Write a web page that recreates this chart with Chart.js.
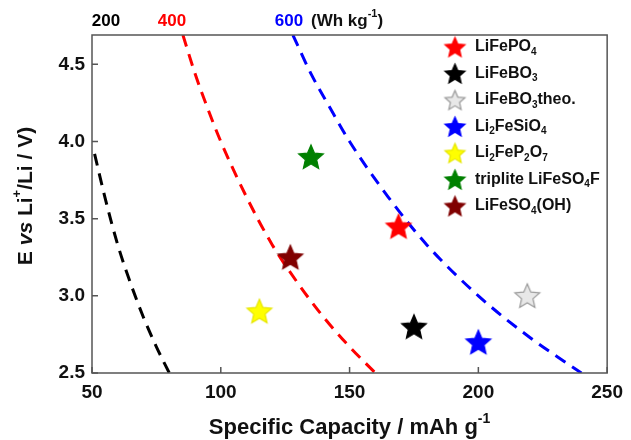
<!DOCTYPE html>
<html>
<head>
<meta charset="utf-8">
<script src="https://cdn.jsdelivr.net/npm/chart.js@4.4.0/dist/chart.umd.min.js"></script>
<style>
  html, body { margin: 0; padding: 0; background: #fff; }
  #wrap { width: 631px; height: 440px; }
</style>
</head>
<body>
<div id="wrap"><canvas id="capChart"></canvas></div>
<script>
// materials (legend labels use _ for subscript, ^ for superscript)
const materials = ['LiFePO_4', 'LiFeBO_3', 'LiFeBO_3theo.', 'Li_2FeSiO_4', 'Li_2FeP_2O_7', 'triplite LiFeSO_4F', 'LiFeSO_4(OH)'];
const capacity = [169, 175, 219, 200, 115, 135, 127];
const voltage = [3.45, 2.80, 3.00, 2.70, 2.90, 3.90, 3.25];
const starFill = ['#ff0000', '#000000', '#e8e8e8', '#0000ff', '#ffff00', '#008000', '#800000'];
const starEdge = ['#ff0000', '#000000', '#999999', '#0000ff', '#e6e600', '#008000', '#800000'];

// iso-energy lines (Wh/kg)
const energyLevels = ['200', '400', '600'];
const energyColors = ['#000000', '#ff0000', '#0000ff'];
const cap200 = [51, 55, 60, 65, 70, 75, 80];
const volt200 = [3.92, 3.64, 3.33, 3.08, 2.86, 2.67, 2.50];
const cap400 = [85.3, 90, 95, 100, 110, 120, 130, 140, 150, 160];
const volt400 = [4.69, 4.44, 4.21, 4.00, 3.64, 3.33, 3.08, 2.86, 2.67, 2.50];
const cap600 = [128, 135, 142, 150, 165, 180, 200, 220, 240];
const volt600 = [4.69, 4.44, 4.23, 4.00, 3.64, 3.33, 3.00, 2.73, 2.50];

const xTicks = [50, 100, 150, 200, 250];
const yTicks = [2.5, 3.0, 3.5, 4.0, 4.5];

const FONT = '"Liberation Sans", Arial, sans-serif';

function makeStar(r, fill, edge) {
  const s = Math.ceil(r * 2 + 4);
  const c = document.createElement('canvas');
  c.width = s; c.height = s;
  const g = c.getContext('2d');
  g.beginPath();
  for (let i = 0; i < 10; i++) {
    const rad = i % 2 ? r * 0.46 : r;
    const a = -Math.PI / 2 + i * Math.PI / 5;
    g.lineTo(s / 2 + rad * Math.cos(a), s / 2 + 1 + rad * Math.sin(a));
  }
  g.closePath();
  g.fillStyle = fill;
  g.fill();
  g.lineWidth = 1.2;
  g.strokeStyle = edge;
  g.stroke();
  return c;
}

const plotStars = starFill.map((f, i) => makeStar(13, f, starEdge[i]));
const legendStars = starFill.map((f, i) => makeStar(10.5, f, starEdge[i]));

// tiny rich text: _x / _{..} subscript, ^x / ^{..} superscript, *..* italic
function parseRich(str) {
  const out = [];
  let i = 0, italic = false, buf = '';
  const flush = () => { if (buf) { out.push({ t: buf, mode: 'n', italic }); buf = ''; } };
  while (i < str.length) {
    const ch = str[i];
    if (ch === '*') { flush(); italic = !italic; i++; continue; }
    if (ch === '_' || ch === '^') {
      flush();
      let t;
      if (str[i + 1] === '{') { const e = str.indexOf('}', i); t = str.slice(i + 2, e); i = e + 1; }
      else { t = str[i + 1]; i += 2; }
      out.push({ t, mode: ch === '_' ? 'sub' : 'sup', italic });
      continue;
    }
    buf += ch; i++;
  }
  flush();
  return out;
}

function drawRich(ctx, str, x, y, size, color, align) {
  const segs = parseRich(str);
  const fontFor = s => (s.italic ? 'italic ' : '') + 'bold ' + (s.mode === 'n' ? size : Math.round(size * 0.62)) + 'px ' + FONT;
  let total = 0;
  segs.forEach(s => { ctx.font = fontFor(s); s.w = ctx.measureText(s.t).width; total += s.w; });
  let cx = align === 'center' ? x - total / 2 : x;
  ctx.save();
  ctx.fillStyle = color;
  ctx.textBaseline = 'middle';
  ctx.textAlign = 'left';
  segs.forEach(s => {
    ctx.font = fontFor(s);
    let dy = 0;
    if (s.mode === 'sub') dy = size * 0.32;
    if (s.mode === 'sup') dy = -size * 0.42;
    ctx.fillText(s.t, cx, y + dy);
    cx += s.w;
  });
  ctx.restore();
}

const framePlugin = {
  id: 'frame',
  afterDraw(chart) {
    const { ctx, chartArea: a, scales } = chart;
    ctx.save();
    ctx.strokeStyle = '#555';
    ctx.lineWidth = 1.5;
    ctx.strokeRect(a.left, a.top, a.right - a.left, a.bottom - a.top);
    ctx.beginPath();
    xTicks.forEach(v => {
      const px = scales.x.getPixelForValue(v);
      ctx.moveTo(px, a.bottom); ctx.lineTo(px, a.bottom - 6);
    });
    yTicks.forEach(v => {
      const py = scales.y.getPixelForValue(v);
      ctx.moveTo(a.left, py); ctx.lineTo(a.left + 6, py);
    });
    ctx.stroke();
    ctx.restore();

    // energy density labels on top
    const topOffsets = [14, 80, 197];
    energyLevels.forEach((t, i) => {
      drawRich(ctx, t, a.left + topOffsets[i], 21, 17, energyColors[i], 'center');
    });
    drawRich(ctx, '(Wh kg^{-1})', a.left + 219, 21, 17, '#111', 'left');

    // legend
    materials.forEach((m, i) => {
      const yy = 47 + i * 26.5;
      const st = legendStars[i];
      ctx.drawImage(st, 455 - st.width / 2, yy - st.height / 2);
      drawRich(ctx, m, 475, yy, 16, '#111', 'left');
    });

    // axis titles
    drawRich(ctx, 'Specific Capacity / mAh g^{-1}', (a.left + a.right) / 2, 428, 22, '#111', 'center');
    ctx.save();
    ctx.translate(26, 196);
    ctx.rotate(-Math.PI / 2);
    drawRich(ctx, 'E *vs* Li^+/Li / V)', 0, 0, 21, '#111', 'center');
    ctx.restore();
  }
};

const toXY = (xs, ys) => xs.map((x, i) => ({ x, y: ys[i] }));
const curveStyle = color => ({
  showLine: true,
  borderColor: color,
  borderWidth: 3,
  borderDash: [12, 8],
  pointRadius: 0,
  cubicInterpolationMode: 'monotone',
  fill: false
});

new Chart(document.getElementById('capChart'), {
  type: 'scatter',
  data: {
    datasets: [
      {
        label: 'materials',
        data: toXY(capacity, voltage),
        pointStyle: plotStars,
        pointRadius: 13,
        order: 0
      },
      Object.assign({ label: '200 Wh/kg', data: toXY(cap200, volt200), order: 1 }, curveStyle(energyColors[0])),
      Object.assign({ label: '400 Wh/kg', data: toXY(cap400, volt400), order: 1 }, curveStyle(energyColors[1])),
      Object.assign({ label: '600 Wh/kg', data: toXY(cap600, volt600), order: 1 }, curveStyle(energyColors[2]))
    ]
  },
  options: {
    responsive: true,
    maintainAspectRatio: false,
    animation: false,
    layout: { padding: { top: 35, right: 18, left: 0, bottom: 0 } },
    plugins: { legend: { display: false }, tooltip: { enabled: false } },
    scales: {
      x: {
        type: 'linear',
        min: 50, max: 250,
        grid: { display: false, drawTicks: false },
        border: { display: false },
        ticks: {
          stepSize: 50,
          padding: 8,
          color: '#111',
          font: { family: FONT, size: 19, weight: 'bold' }
        },
        afterFit(s) { s.height = 67; }
      },
      y: {
        min: 2.5, max: 4.69,
        grid: { display: false, drawTicks: false },
        border: { display: false },
        ticks: {
          stepSize: 0.5,
          includeBounds: false,
          padding: 7,
          color: '#111',
          font: { family: FONT, size: 19, weight: 'bold' },
          callback: v => v.toFixed(1)
        },
        afterFit(s) { s.width = 92; }
      }
    }
  },
  plugins: [framePlugin]
});
</script>
</body>
</html>
